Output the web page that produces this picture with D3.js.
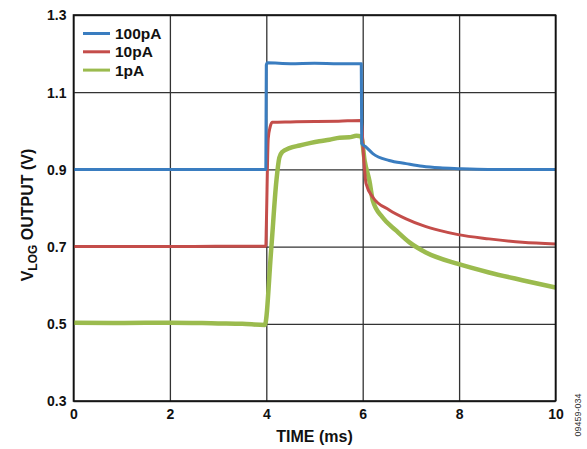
<!DOCTYPE html>
<html><head><meta charset="utf-8">
<script src="https://cdn.jsdelivr.net/npm/d3@7"></script>
<style>
body{margin:0;background:#fff;}
svg{display:block;font-family:"Liberation Sans",Arial,sans-serif;}
</style></head>
<body>
<svg id="chart" width="587" height="449"></svg>
<script>
const xTicks = [0, 2, 4, 6, 8, 10];
const yTicks = [0.3, 0.5, 0.7, 0.9, 1.1, 1.3];
const seriesNames = ["100pA", "10pA", "1pA"];
const seriesColors = ["#3a7dc0", "#c44d4a", "#9bbb4e"];

const blueT = [0, 1, 2, 3, 3.99, 4.0, 4.02, 4.5, 5, 5.5, 5.97, 5.98, 6.07, 6.21, 6.55, 6.9, 7.24, 7.6, 7.98, 8.6, 9.3, 10];
const blueV = [0.9, 0.9, 0.9, 0.9, 0.9, 1.17, 1.176, 1.174, 1.175, 1.174, 1.174, 0.967, 0.958, 0.941, 0.923, 0.915, 0.908, 0.904, 0.902, 0.9, 0.9, 0.9];

const redT = [0, 1, 2, 3, 3.99, 4.0, 4.04, 4.08, 4.12, 4.5, 5, 5.5, 5.97, 6.02, 6.07, 6.21, 6.55, 6.9, 7.24, 7.59, 7.98, 8.62, 9.31, 10];
const redV = [0.7, 0.7, 0.7, 0.701, 0.701, 0.75, 0.98, 1.01, 1.022, 1.023, 1.024, 1.025, 1.027, 0.93, 0.863, 0.828, 0.795, 0.772, 0.755, 0.742, 0.731, 0.72, 0.711, 0.707];

const greenT = [0, 1, 2, 3, 3.5, 3.97, 4.1, 4.21, 4.27, 4.33, 4.48, 4.69, 4.9, 5.1, 5.31, 5.52, 5.72, 5.87, 5.97, 6.04, 6.14, 6.21, 6.41, 6.69, 6.97, 7.31, 7.98, 8.62, 9.31, 10];
const greenV = [0.503, 0.502, 0.503, 0.501, 0.5, 0.497, 0.69, 0.871, 0.93, 0.945, 0.955, 0.962, 0.968, 0.973, 0.977, 0.982, 0.983, 0.987, 0.985, 0.923, 0.87, 0.819, 0.776, 0.742, 0.711, 0.685, 0.655, 0.633, 0.613, 0.594];

const seriesT = [blueT, redT, greenT];
const seriesV = [blueV, redV, greenV];
const seriesWidths = [3, 3, 4.5];

const svg = d3.select("#chart");
const L = 73.5, R = 555.5, T = 15, B = 401;
const x = d3.scaleLinear().domain([0, 10]).range([L, R]);
const y = d3.scaleLinear().domain([0.3, 1.3]).range([B, T]);

// grid
const gx = svg.append("g").attr("transform", `translate(0,${B})`)
  .call(d3.axisBottom(x).tickValues(xTicks).tickSize(-(B - T)).tickFormat(d3.format("d")));
gx.select(".domain").remove();
gx.selectAll(".tick line").attr("stroke", "#333").attr("stroke-width", 1.3);
gx.selectAll(".tick text").attr("dy", 0).attr("y", 18).attr("font-size", 14).attr("font-weight", "bold").attr("fill", "#111");

const gy = svg.append("g").attr("transform", `translate(${L},0)`)
  .call(d3.axisLeft(y).tickValues(yTicks).tickSize(-(R - L)).tickFormat(d3.format(".1f")));
gy.select(".domain").remove();
gy.selectAll(".tick line").attr("stroke", "#333").attr("stroke-width", 1.3);
gy.selectAll(".tick text").attr("x", -7).attr("dy", "0.35em").attr("font-size", 14).attr("font-weight", "bold").attr("fill", "#111");

// lines
const line = d3.line().x(d => x(d[0])).y(d => y(d[1])).curve(d3.curveMonotoneX);
[2, 1, 0].forEach(i => {
  const pts = seriesT[i].map((t, k) => [t, seriesV[i][k]]);
  svg.append("path").datum(pts).attr("d", line)
    .attr("fill", "none").attr("stroke", seriesColors[i])
    .attr("stroke-width", seriesWidths[i]).attr("stroke-linejoin", "round");
});

// frame
svg.append("rect").attr("x", L).attr("y", T).attr("width", R - L).attr("height", B - T)
  .attr("fill", "none").attr("stroke", "#111").attr("stroke-width", 1.6);

// legend
seriesNames.forEach((n, i) => {
  const ly = 33.5 + i * 18.3;
  svg.append("line").attr("x1", 83).attr("x2", 110).attr("y1", ly).attr("y2", ly)
    .attr("stroke", seriesColors[i]).attr("stroke-width", 3);
  svg.append("text").attr("x", 115).attr("y", ly).attr("dy", "0.36em")
    .attr("font-size", 15.5).attr("font-weight", "bold").attr("fill", "#111").text(n);
});

// axis titles
svg.append("text").attr("x", (L + R) / 2).attr("y", 442).attr("text-anchor", "middle")
  .attr("font-size", 16).attr("font-weight", "bold").attr("fill", "#111").text("TIME (ms)");

const yt = svg.append("text").attr("transform", "translate(33,215) rotate(-90)")
  .attr("text-anchor", "middle").attr("font-size", 16).attr("font-weight", "bold").attr("fill", "#111");
yt.append("tspan").text("V");
yt.append("tspan").attr("font-size", 12).attr("dy", 4).text("LOG");
yt.append("tspan").attr("dy", -4).text(" OUTPUT (V)");

svg.append("text").attr("transform", "translate(581,415) rotate(-90)")
  .attr("text-anchor", "middle").attr("font-size", 9).attr("fill", "#333").text("09459-034");
</script>
</body></html>
